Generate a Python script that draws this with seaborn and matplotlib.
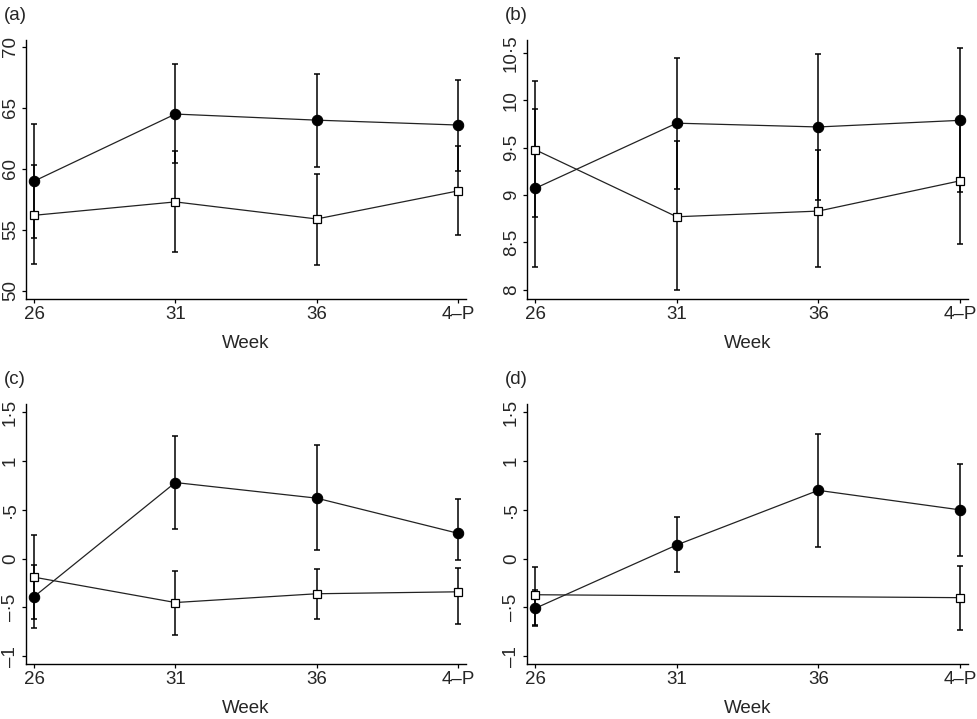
import numpy as np
import pandas as pd
import seaborn as sns
import matplotlib.pyplot as plt

weeks = ['26', '31', '36', '4–P']

# panel (a)
a_filled = [59.0, 64.5, 64.0, 63.6]
a_filled_lo = [54.3, 60.5, 60.2, 59.8]
a_filled_hi = [63.7, 68.6, 67.8, 67.3]
a_open = [56.2, 57.3, 55.9, 58.2]
a_open_lo = [52.2, 53.2, 52.1, 54.6]
a_open_hi = [60.3, 61.5, 59.6, 61.9]

# panel (b)
b_filled = [9.07, 9.76, 9.72, 9.79]
b_filled_lo = [8.24, 9.06, 8.95, 9.03]
b_filled_hi = [9.91, 10.45, 10.49, 10.56]
b_open = [9.48, 8.77, 8.83, 9.15]
b_open_lo = [8.77, 7.99, 8.24, 8.48]
b_open_hi = [10.21, 9.57, 9.48, 9.82]

# panel (c)
c_filled = [-0.39, 0.78, 0.62, 0.26]
c_filled_lo = [-0.71, 0.30, 0.09, -0.01]
c_filled_hi = [-0.07, 1.26, 1.16, 0.61]
c_open = [-0.19, -0.45, -0.36, -0.34]
c_open_lo = [-0.62, -0.78, -0.62, -0.67]
c_open_hi = [0.24, -0.13, -0.11, -0.10]

# panel (d) - open series only measured at 26 and 4-P
d_filled = [-0.51, 0.14, 0.70, 0.50]
d_filled_lo = [-0.69, -0.14, 0.12, 0.03]
d_filled_hi = [-0.32, 0.43, 1.28, 0.97]
d_weeks_open = ['26', '4–P']
d_open = [-0.37, -0.40]
d_open_lo = [-0.68, -0.73]
d_open_hi = [-0.09, -0.08]

panels = [
    ('(a)', weeks, a_filled, a_filled_lo, a_filled_hi, weeks, a_open, a_open_lo, a_open_hi,
     (49.34, 70.57), [50, 55, 60, 65, 70], ['50', '55', '60', '65', '70']),
    ('(b)', weeks, b_filled, b_filled_lo, b_filled_hi, weeks, b_open, b_open_lo, b_open_hi,
     (7.90, 10.64), [8, 8.5, 9, 9.5, 10, 10.5], ['8', '8·5', '9', '9·5', '10', '10·5']),
    ('(c)', weeks, c_filled, c_filled_lo, c_filled_hi, weeks, c_open, c_open_lo, c_open_hi,
     (-1.08, 1.585), [-1, -0.5, 0, 0.5, 1, 1.5], ['–1', '–·5', '0', '·5', '1', '1·5']),
    ('(d)', weeks, d_filled, d_filled_lo, d_filled_hi, d_weeks_open, d_open, d_open_lo, d_open_hi,
     (-1.08, 1.585), [-1, -0.5, 0, 0.5, 1, 1.5], ['–1', '–·5', '0', '·5', '1', '1·5']),
]

sns.set_theme(style='ticks')
plt.rcParams['font.family'] = ['Liberation Sans', 'DejaVu Sans']

fig = plt.figure(figsize=(9.77, 7.19), dpi=100)
W, H = 977, 719
# axes boxes in pixels: left, top, right, bottom
boxes = [(26, 40, 466, 299), (527, 40, 968, 299), (26, 404, 466, 664), (527, 404, 968, 664)]
fs = 13.5

for (lab, xf, yf, lof, hif, xo, yo, loo, hio, ylim, yt, ytl), (l, t, r, b) in zip(panels, boxes):
    ax = fig.add_axes([l / W, 1 - b / H, (r - l) / W, (b - t) / H])
    df_f = pd.DataFrame({'week': xf, 'val': yf})
    df_o = pd.DataFrame({'week': xo, 'val': yo})
    sns.lineplot(data=df_f, x='week', y='val', ax=ax, color='#222222', lw=0.9,
                 marker='o', markersize=7.5, markerfacecolor='black', markeredgecolor='black',
                 sort=False, zorder=3)
    ax.errorbar(xf, yf, yerr=[np.array(yf) - np.array(lof), np.array(hif) - np.array(yf)],
                fmt='none', ecolor='black', elinewidth=1.1, capsize=2.2, capthick=1.1, zorder=2)
    sns.lineplot(data=df_o, x='week', y='val', ax=ax, color='#222222', lw=0.9,
                 marker='s', markersize=6.3, markerfacecolor='white', markeredgecolor='black',
                 markeredgewidth=0.9, sort=False, zorder=4)
    ax.errorbar(xo, yo, yerr=[np.array(yo) - np.array(loo), np.array(hio) - np.array(yo)],
                fmt='none', ecolor='black', elinewidth=1.1, capsize=2.2, capthick=1.1, zorder=2)

    ax.set_xlim(-0.057, 3.057)
    ax.set_ylim(*ylim)
    ax.set_yticks(yt)
    ax.set_yticklabels(ytl, rotation=90, va='center')
    ax.set_xlabel('Week', fontsize=fs, labelpad=9)
    ax.set_ylabel('')
    ax.tick_params(axis='both', direction='out', length=3, width=0.9, labelsize=fs, pad=2, color='black')
    for s in ['top', 'right']:
        ax.spines[s].set_visible(False)
    for s in ['left', 'bottom']:
        ax.spines[s].set_linewidth(1.0)
        ax.spines[s].set_color('black')
    ax.set_facecolor('white')
    fig.text((l - 22) / W, 1 - (t - 25) / H, lab, fontsize=fs, va='center', ha='left')

fig.savefig('out.png', dpi=100, facecolor='white')
